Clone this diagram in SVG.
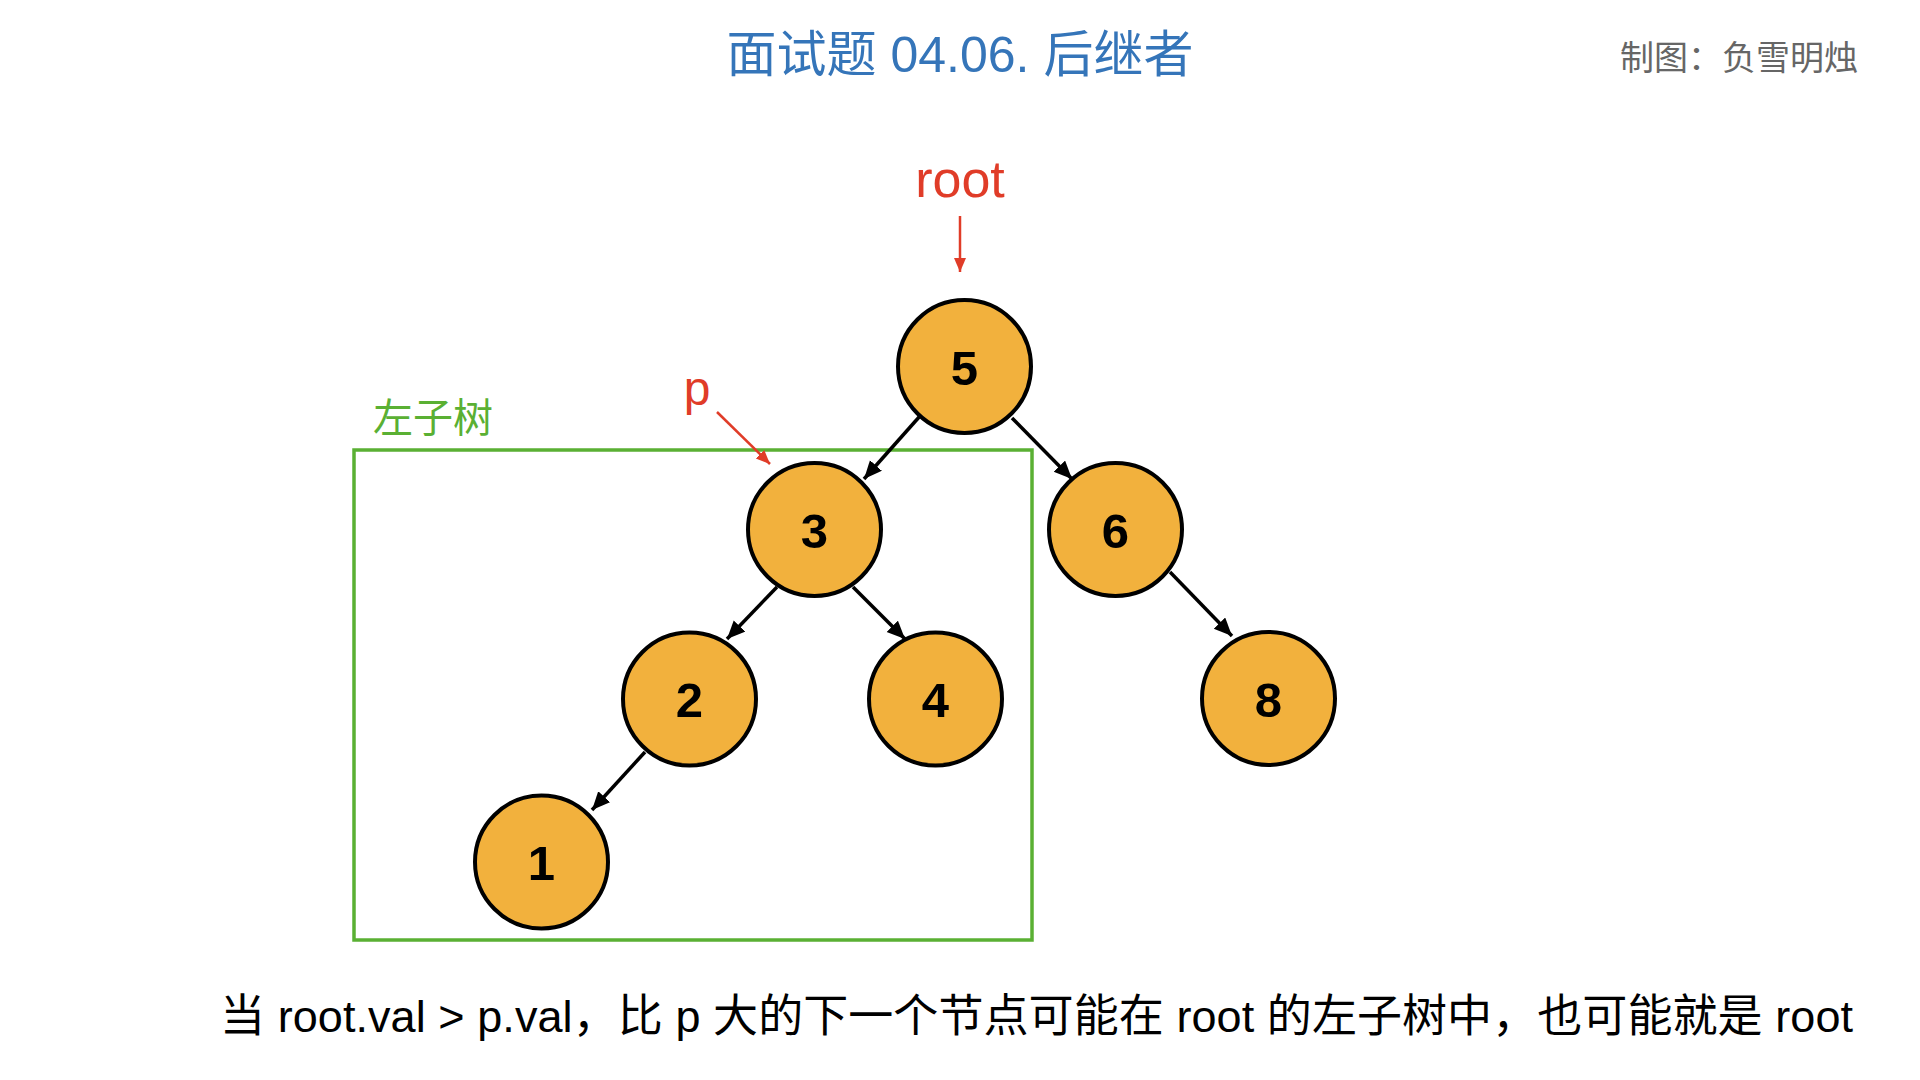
<svg xmlns="http://www.w3.org/2000/svg" width="1920" height="1080" viewBox="0 0 1920 1080">
<style>
.node circle{fill:#F2B13D;stroke:#000;stroke-width:4}
.node text{font-family:"Liberation Sans",Arial,sans-serif;font-weight:bold;font-size:49px;text-anchor:middle;fill:#000}
.edge{stroke:#000;stroke-width:3.5;fill:none;marker-end:url(#ah)}
.red{stroke:#E03C28;stroke-width:2.5;fill:none;marker-end:url(#ahr)}
.cjk{font-family:"Liberation Sans","Noto Sans CJK SC",sans-serif}
</style>
<defs>
<marker id="ah" markerUnits="userSpaceOnUse" markerWidth="20" markerHeight="18" refX="18" refY="8" orient="auto">
<path d="M0,0 L18,8 L0,16 z" fill="#000"/>
</marker>
<marker id="ahr" markerUnits="userSpaceOnUse" markerWidth="16" markerHeight="14" refX="14" refY="6" orient="auto">
<path d="M0,0 L14,6 L0,12 z" fill="#E03C28"/>
</marker>
</defs>
<rect width="1920" height="1080" fill="#fff"/>
<text class="cjk" x="960" y="72" font-size="50" fill="#3575B9" text-anchor="middle">面试题 04.06. 后继者</text>
<text class="cjk" x="1858" y="70" font-size="34" fill="#666" text-anchor="end">制图：负雪明烛</text>
<g id="root-label">
<text class="cjk" x="960" y="197" font-size="52" fill="#E03C28" text-anchor="middle">root</text>
</g>
<g id="p-label">
<text class="cjk" x="697" y="405" font-size="48" fill="#E03C28" text-anchor="middle">p</text>
</g>
<g id="left-subtree">
<rect x="354" y="450" width="678" height="490" fill="none" stroke="#5AB033" stroke-width="3.5"/>
<text class="cjk" x="373" y="432" font-size="40" fill="#5AB033">左子树</text>
</g>
<g id="connectors">
<line class="red" x1="960" y1="216" x2="960" y2="272"/>
<line class="red" x1="717" y1="412" x2="770" y2="464"/>
<line class="edge" x1="920" y1="416" x2="864" y2="479"/>
<line class="edge" x1="1012" y1="418" x2="1072" y2="479"/>
<line class="edge" x1="777" y1="587" x2="727" y2="639"/>
<line class="edge" x1="853" y1="587" x2="905" y2="639"/>
<line class="edge" x1="645" y1="752" x2="592" y2="810"/>
<line class="edge" x1="1170" y1="572" x2="1232" y2="636"/>
</g>
<g id="node5" class="node"><circle cx="964.5" cy="366.5" r="66.5"/><text x="964.5" y="384.5">5</text></g>
<g id="node3" class="node"><circle cx="814.5" cy="529.5" r="66.5"/><text x="814.5" y="547.5">3</text></g>
<g id="node6" class="node"><circle cx="1115.5" cy="529.5" r="66.5"/><text x="1115.5" y="547.5">6</text></g>
<g id="node2" class="node"><circle cx="689.5" cy="699" r="66.5"/><text x="689.5" y="717">2</text></g>
<g id="node4" class="node"><circle cx="935.5" cy="699" r="66.5"/><text x="935.5" y="717">4</text></g>
<g id="node8" class="node"><circle cx="1268.5" cy="698.5" r="66.5"/><text x="1268.5" y="716.5">8</text></g>
<g id="node1" class="node"><circle cx="541.5" cy="862" r="66.5"/><text x="541.5" y="880">1</text></g>
<text class="cjk" x="220" y="1032" font-size="45" fill="#000" textLength="1633" lengthAdjust="spacing">当 root.val &gt; p.val，比 p 大的下一个节点可能在 root 的左子树中，也可能就是 root</text>
</svg>
